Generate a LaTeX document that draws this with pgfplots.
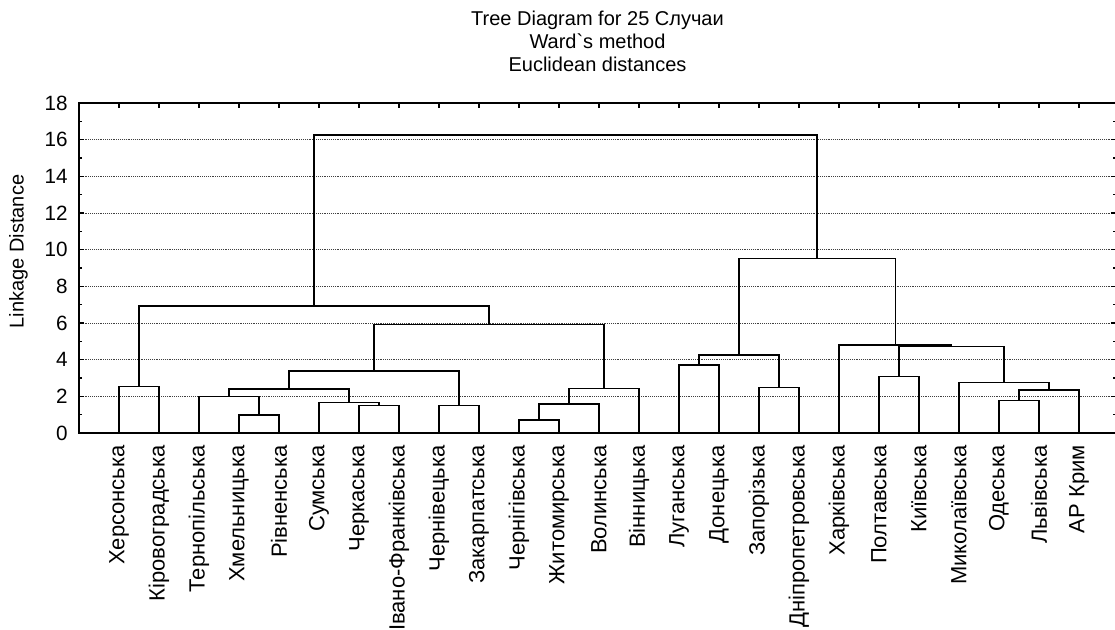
\documentclass[border=0pt]{standalone}
\usepackage{fontspec}
\setmainfont{Liberation Sans}
\usepackage{pgfplots}
\pgfplotsset{compat=1.18}
\pgfplotsset{dendro/.style={black, line width=1.1pt, mark=none, line join=miter, solid}}
\begin{document}
\begin{tikzpicture}
\begin{axis}[
  name=ax,
  scale only axis,
  width=777.75pt, height=247.5pt,
  xmin=0, xmax=25.925, ymin=0, ymax=18,
  axis line style={line width=1.1pt},
  ytick={0,2,...,18},
  minor ytick={1,3,...,17},
  ymajorgrids,
  grid style={densely dotted, black!75, line width=0.5pt},
  minor grid style={draw=none},
  xtick={1,...,25},
  xticklabels={Херсонська, Кіровоградська, Тернопільська, Хмельницька, Рівненська, Сумська, Черкаська, Івано-Франківська, Чернівецька, Закарпатська, Чернігівська, Житомирська, Волинська, Вінницька, Луганська, Донецька, Запорізька, Дніпропетровська, Харківська, Полтавська, Київська, Миколаївська, Одеська, Львівська, АР Крим},
  tick align=inside,
  xtick pos=both,
  ytick pos=both,
  xticklabel pos=lower,
  yticklabel pos=left,
  major tick length=4pt,
  minor tick length=2.5pt,
  tick style={black, line width=0.8pt},
  /pgf/number format/assume math mode=true,
  xticklabel style={yshift=-9pt, rotate=90, anchor=east, inner sep=0pt, font=\fontsize{16.5}{18}\selectfont},
  yticklabel style={anchor=east, inner sep=0pt, xshift=-8.25pt, font=\fontsize{15.5}{17}\selectfont},
  ylabel={Linkage Distance},
  every axis y label/.style={at={(axis description cs:-0.0585,0.55)}, rotate=90, anchor=center, inner sep=0pt, font=\fontsize{15}{17}\selectfont},
  title={Tree Diagram for 25 Случаи\\Ward\textasciigrave s method\\Euclidean distances},
  title style={align=center, at={(axis description cs:0.5,1.164)}, anchor=center, font=\fontsize{15}{17.25}\selectfont},
]
% A
\addplot[dendro] coordinates {(1,0) (1,2.53) (2,2.53) (2,0)};
% B
\addplot[dendro] coordinates {(4,0) (4,0.98) (5,0.98) (5,0)};
% C
\addplot[dendro] coordinates {(3,0) (3,2.0) (4.5,2.0) (4.5,0.98)};
% D
\addplot[dendro] coordinates {(7,0) (7,1.49) (8,1.49) (8,0)};
% E
\addplot[dendro] coordinates {(6,0) (6,1.67) (7.5,1.67) (7.5,1.49)};
% F
\addplot[dendro] coordinates {(3.75,2.0) (3.75,2.40) (6.75,2.40) (6.75,1.67)};
% G
\addplot[dendro] coordinates {(9,0) (9,1.49) (10,1.49) (10,0)};
% H
\addplot[dendro] coordinates {(5.25,2.40) (5.25,3.38) (9.5,3.38) (9.5,1.49)};
% I
\addplot[dendro] coordinates {(11,0) (11,0.71) (12,0.71) (12,0)};
% J
\addplot[dendro] coordinates {(11.5,0.71) (11.5,1.58) (13,1.58) (13,0)};
% K
\addplot[dendro] coordinates {(12.25,1.58) (12.25,2.44) (14,2.44) (14,0)};
% L
\addplot[dendro] coordinates {(7.375,3.38) (7.375,5.93) (13.125,5.93) (13.125,2.44)};
% M
\addplot[dendro] coordinates {(1.5,2.53) (1.5,6.93) (10.25,6.93) (10.25,5.93)};
% N
\addplot[dendro] coordinates {(15,0) (15,3.71) (16,3.71) (16,0)};
% O
\addplot[dendro] coordinates {(17,0) (17,2.49) (18,2.49) (18,0)};
% P
\addplot[dendro] coordinates {(15.5,3.71) (15.5,4.26) (17.5,4.26) (17.5,2.49)};
% Q
\addplot[dendro] coordinates {(20,0) (20,3.07) (21,3.07) (21,0)};
% R
\addplot[dendro] coordinates {(23,0) (23,1.76) (24,1.76) (24,0)};
% S
\addplot[dendro] coordinates {(23.5,1.76) (23.5,2.35) (25,2.35) (25,0)};
% T
\addplot[dendro] coordinates {(22,0) (22,2.75) (24.25,2.75) (24.25,2.35)};
% U
\addplot[dendro] coordinates {(20.5,3.07) (20.5,4.71) (23.125,4.71) (23.125,2.75)};
% V
\addplot[dendro] coordinates {(19,0) (19,4.80) (21.8125,4.80) (21.8125,4.71)};
% W
\addplot[dendro] coordinates {(16.5,4.26) (16.5,9.53) (20.40625,9.53) (20.40625,4.80)};
% X
\addplot[dendro] coordinates {(5.875,6.93) (5.875,16.26) (18.453125,16.26) (18.453125,9.53)};
\end{axis}
\pgfresetboundingbox
\path (ax.south west) ++(-59.25pt,-147pt) rectangle ++(836.25pt,471.75pt);
\end{tikzpicture}
\end{document}
